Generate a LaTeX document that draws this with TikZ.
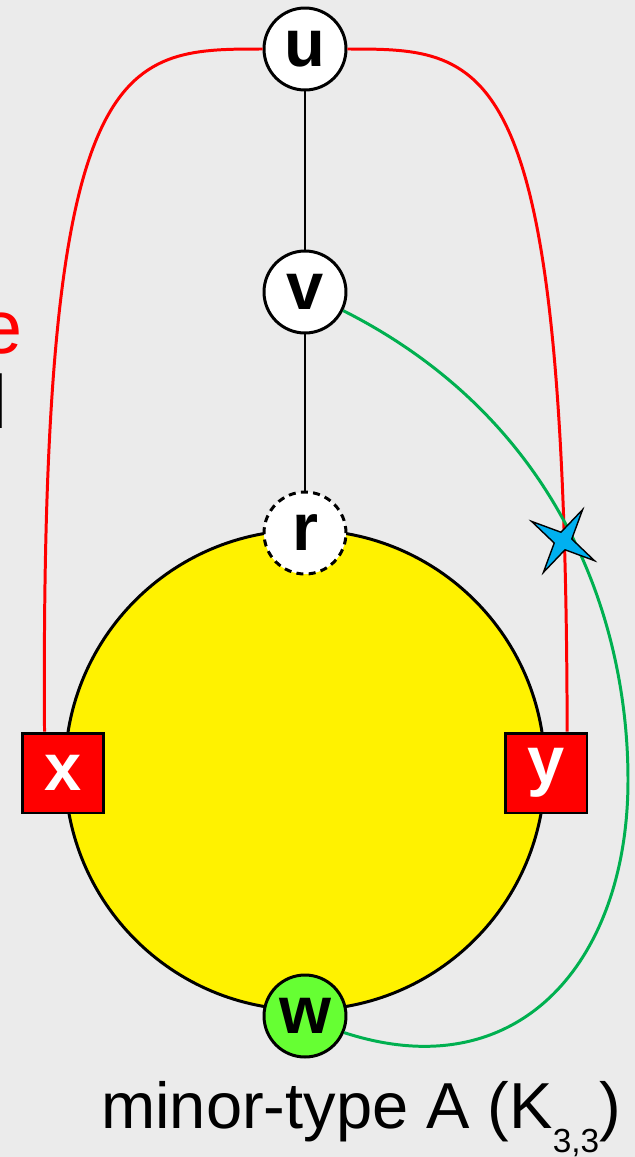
\documentclass[tikz,border=0pt]{standalone}
\usepackage{fontspec}
\setmainfont{Liberation Sans}
\usetikzlibrary{calc}
\definecolor{bggray}{HTML}{EBEBEB}
\definecolor{edgegreen}{HTML}{00B050}
\definecolor{wgreen}{HTML}{66FF33}
\definecolor{starblue}{HTML}{00B0F0}
\begin{document}
\begin{tikzpicture}[x=0.02cm,y=-0.02cm,
    vertex/.style={circle,draw,line width=1.7pt,fill=white,minimum size=1.64cm,inner sep=0pt,font=\fontsize{38}{38}\selectfont\bfseries},
    term/.style={rectangle,draw,line width=1.7pt,fill=red,text=white,minimum width=1.64cm,minimum height=1.6cm,inner sep=0pt,font=\fontsize{38}{38}\selectfont\bfseries}]
    \fill [bggray] (0,0) rectangle (635,1157);
    \clip (0,0) rectangle (635,1157);
    \node [anchor=base east,inner sep=0pt,text=red,font=\fontsize{43}{43}\selectfont] (capa) at (23,353) {e};
    \node [anchor=base east,inner sep=0pt,font=\fontsize{43}{43}\selectfont] (capb) at (8,428) {l};
    \node [circle,draw,line width=1.7pt,fill=yellow,minimum size=9.6cm] (blk) at (305,770) {};
    \node [vertex] (u) at (305,49) {u};
    \node [vertex] (v) at (305,292) {v};
    \node [vertex,dashed,dash pattern=on 4pt off 3pt] (r) at (305,533) {r};
    \node [term] (x) at (63,773) {x};
    \node [term] (y) at (546,773) {y};
    \node [vertex,fill=wgreen] (w) at (305,1016) {w};
    \draw [line width=1.7pt] (u) -- (v) -- (r);
    \draw [red, line width=1.7pt] (x.114) .. controls (40,50) and (120,49) .. (u.west);
    \draw [red, line width=1.7pt] (u.east) .. controls (490,49) and (566,50) .. (y.63);
    \draw [edgegreen, line width=1.7pt] (v.-26) .. controls (560,420) and (628,620) .. (628,780)
        .. controls (628,960) and (520,1090) .. (w.-23);
    \coordinate (hit) at (563,541);
    \draw [fill=starblue, line width=0.8pt, line join=miter]
        ($(hit)+(-58:37)$) -- ($(hit)+(-13:9)$) -- ($(hit)+(32:37)$) -- ($(hit)+(77:9)$)
        -- ($(hit)+(122:37)$) -- ($(hit)+(167:9)$) -- ($(hit)+(212:37)$) -- ($(hit)+(257:9)$) -- cycle;
    \node [anchor=base west,inner sep=0pt,font=\fontsize{37}{37}\selectfont] (cap) at (101,1128)
        {minor-type A (K\raisebox{-14pt}{\fontsize{19}{19}\selectfont 3,3})};
\end{tikzpicture}
\end{document}
